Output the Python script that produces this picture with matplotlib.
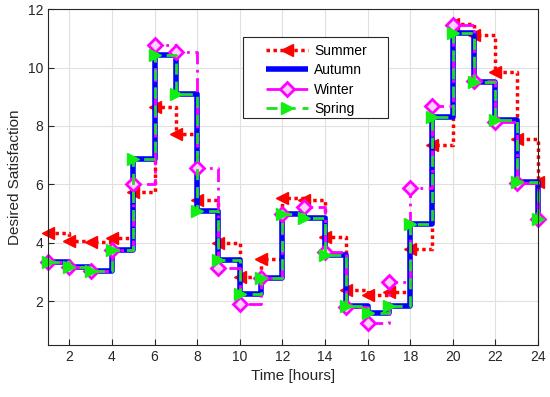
import matplotlib
matplotlib.use("Agg")
import matplotlib.pyplot as plt
from matplotlib.patches import Rectangle

hours = list(range(1, 25))
summer = [4.35, 4.05, 4.02, 4.18, 5.73, 8.64, 7.72, 5.48, 4.0, 2.84, 3.43, 5.54,
          5.48, 4.2, 2.38, 2.2, 2.33, 3.77, 7.36, 11.49, 11.11, 9.86, 7.55, 6.07]
autumn = [3.35, 3.17, 3.05, 3.75, 6.88, 10.43, 9.08, 5.1, 3.4, 2.24, 2.81, 4.97,
          4.86, 3.58, 1.82, 1.6, 1.84, 4.65, 8.3, 11.19, 9.52, 8.22, 6.07, 4.8]
winter = [3.35, 3.17, 3.05, 3.75, 6.0, 10.78, 10.54, 6.56, 3.12, 1.9, 2.81, 4.97,
          5.22, 3.7, 1.8, 1.25, 2.66, 5.88, 8.67, 11.45, 9.55, 8.12, 6.05, 4.8]
spring = [3.35, 3.17, 3.05, 3.75, 6.88, 10.43, 9.08, 5.1, 3.4, 2.24, 2.81, 4.97,
          4.86, 3.58, 1.82, 1.6, 1.84, 4.65, 8.3, 11.19, 9.52, 8.22, 6.07, 4.8]
xticks = list(range(2, 25, 2))
yticks = list(range(2, 13, 2))

plt.rcParams['font.family'] = ['Liberation Sans', 'DejaVu Sans']

fig = plt.figure(figsize=(5.5, 3.97), dpi=100)
ax = fig.add_axes([0.0873, 0.131, 0.891, 0.846])

ax.plot(hours, summer, drawstyle='steps-post', color='red', linestyle=(0, (1, 1)),
        linewidth=2.5, marker='<', markersize=8, markerfacecolor='red',
        markeredgecolor='red', label='Summer', clip_on=False)
ax.plot(hours, autumn, drawstyle='steps-post', color='#0000ff', linestyle='-',
        linewidth=4, label='Autumn', clip_on=False, solid_capstyle='butt')
ax.plot(hours, winter, drawstyle='steps-post', color='#ff00ff', linestyle=(0, (5, 2, 1, 2)),
        linewidth=2, marker='D', markersize=7, markerfacecolor='#ffd0ff',
        markeredgecolor='#ff00ff', markeredgewidth=2, label='Winter', clip_on=False)
ax.plot(hours, spring, drawstyle='steps-post', color='#22dd22', linestyle=(0, (4, 2.5)),
        linewidth=2, marker='>', markersize=8, markerfacecolor='#11ee11',
        markeredgecolor='#11ee11', label='Spring', clip_on=False)

ax.set_xlim(1, 24)
ax.set_ylim(0.5, 12)
ax.set_xticks(xticks)
ax.set_yticks(yticks)
ax.grid(True, color='#e0e0e0', linewidth=0.8)
ax.set_axisbelow(True)
ax.tick_params(direction='in', labelsize=10, colors='#262626', length=4)
for s in ax.spines.values():
    s.set_color('#262626')
    s.set_linewidth(0.8)
ax.set_xlabel('Time [hours]', fontsize=11, color='#262626')
ax.set_ylabel('Desired Satisfaction', fontsize=11, color='#262626')

# legend frame (MATLAB-style wide box)
ax.add_patch(Rectangle((0.398, 0.676), 0.296, 0.241, transform=ax.transAxes,
                       facecolor='white', edgecolor='#262626', linewidth=0.8,
                       zorder=4.5, clip_on=False))
leg = ax.legend(loc='upper left', bbox_to_anchor=(0.445, 0.896), fontsize=10,
                frameon=False, handlelength=3.0, borderpad=0, borderaxespad=0,
                labelspacing=0.38, handletextpad=0.45)
leg.set_zorder(5)

fig.savefig('out.png', dpi=100)
